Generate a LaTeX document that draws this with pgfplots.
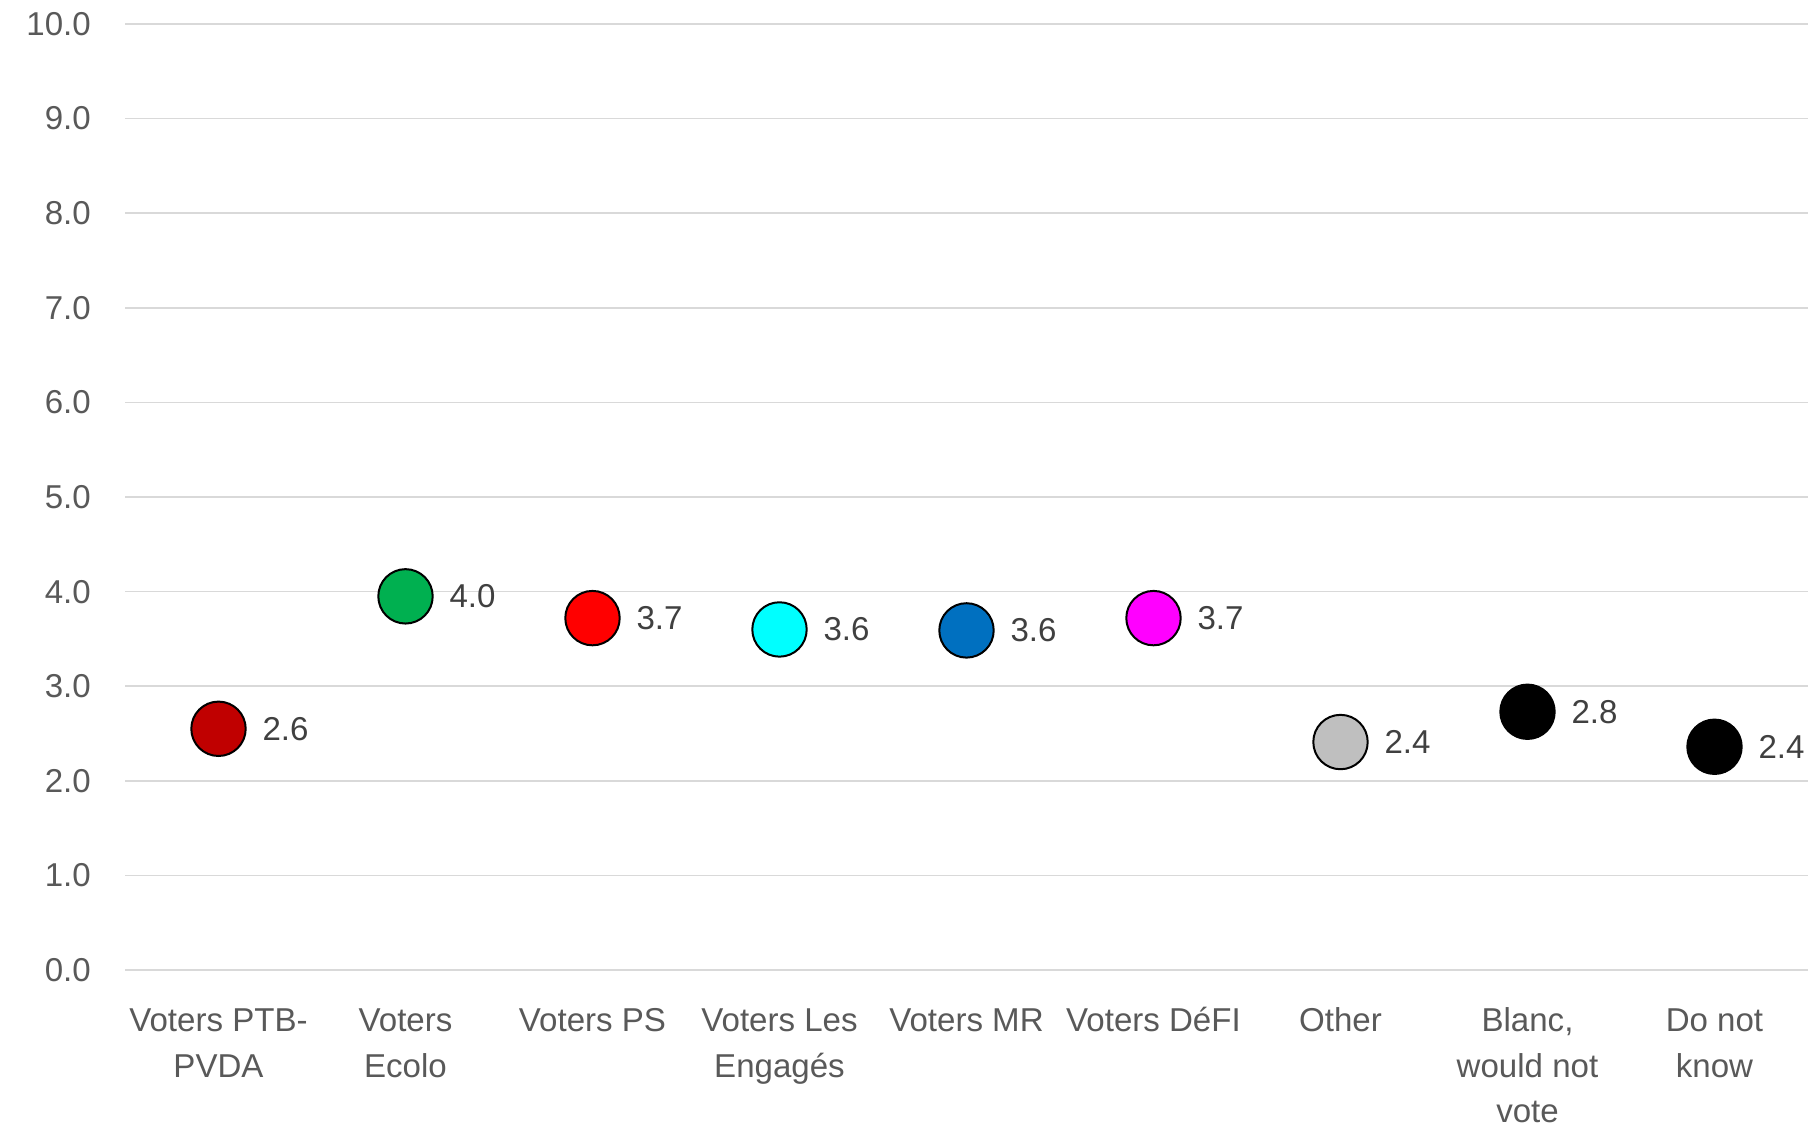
\documentclass[border=0pt]{standalone}
\usepackage{fontspec}
\setmainfont{Liberation Sans}
\usepackage{pgfplots}
\pgfplotsset{compat=1.18}
\definecolor{tickgray}{HTML}{595959}
\definecolor{labgray}{HTML}{404040}
\definecolor{gridgray}{HTML}{D9D9D9}
\definecolor{cPTB}{HTML}{C00000}
\definecolor{cEcolo}{HTML}{00B050}
\definecolor{cPS}{HTML}{FF0000}
\definecolor{cEng}{HTML}{00FFFF}
\definecolor{cMR}{HTML}{0070C0}
\definecolor{cDefi}{HTML}{FF00FF}
\definecolor{cOther}{HTML}{BFBFBF}
\begin{document}
\fontsize{12.4pt}{17pt}\selectfont
\begin{tikzpicture}
\path[use as bounding box] (-46.875pt,-57.375pt) rectangle (633.35pt,363.75pt);
\begin{axis}[
  at={(0,0)}, anchor=south west,
  scale only axis,
  width=631.1pt, height=354.75pt,
  xmin=-0.5, xmax=8.5,
  ymin=0, ymax=10,
  ytick={0,1,...,10},
  xtick={0,...,8},
  xticklabels={\strut Voters PTB-\\PVDA, \strut Voters\\Ecolo, \strut Voters PS, \strut Voters Les\\Engagés, \strut Voters MR, \strut Voters DéFI, \strut Other, {\strut Blanc,\\would not\\vote}, \strut Do not\\know},
  xticklabel style={align=center, text=tickgray, font=\fontsize{12.4pt}{17pt}\selectfont, anchor=north, yshift=-7pt},
  yticklabel style={text=tickgray, font=\fontsize{12.4pt}{17pt}\selectfont, xshift=-8.5pt},
  /pgf/number format/assume math mode=true,
  /pgf/number format/.cd, fixed, fixed zerofill, precision=1, /pgfplots/.cd,
  axis line style={draw=none},
  major tick length=0pt,
  ymajorgrids,
  grid style={gridgray, line width=0.6pt},
  clip=false,
  nodes near coords,
  point meta=explicit symbolic,
  every node near coord/.append style={anchor=west, xshift=12pt, text=labgray, font=\fontsize{12.4pt}{17pt}\selectfont},
]
\addplot[only marks, mark=*, mark size=10.2pt, mark options={fill=cPTB, draw=black, line width=0.75pt}] coordinates {(0,2.55) [2.6]};
\addplot[only marks, mark=*, mark size=10.2pt, mark options={fill=cEcolo, draw=black, line width=0.75pt}] coordinates {(1,3.95) [4.0]};
\addplot[only marks, mark=*, mark size=10.2pt, mark options={fill=cPS, draw=black, line width=0.75pt}] coordinates {(2,3.72) [3.7]};
\addplot[only marks, mark=*, mark size=10.2pt, mark options={fill=cEng, draw=black, line width=0.75pt}] coordinates {(3,3.60) [3.6]};
\addplot[only marks, mark=*, mark size=10.2pt, mark options={fill=cMR, draw=black, line width=0.75pt}] coordinates {(4,3.59) [3.6]};
\addplot[only marks, mark=*, mark size=10.2pt, mark options={fill=cDefi, draw=black, line width=0.75pt}] coordinates {(5,3.72) [3.7]};
\addplot[only marks, mark=*, mark size=10.2pt, mark options={fill=cOther, draw=black, line width=0.75pt}] coordinates {(6,2.41) [2.4]};
\addplot[only marks, mark=*, mark size=10.2pt, mark options={fill=black, draw=black, line width=0.75pt}] coordinates {(7,2.73) [2.8]};
\addplot[only marks, mark=*, mark size=10.2pt, mark options={fill=black, draw=black, line width=0.75pt}] coordinates {(8,2.36) [2.4]};
\end{axis}
\end{tikzpicture}
\end{document}
